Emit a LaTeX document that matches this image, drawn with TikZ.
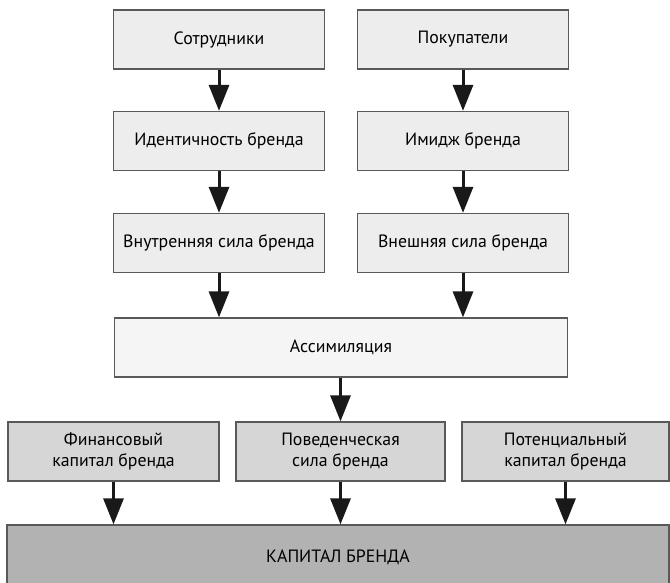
\documentclass[tikz,border=0pt]{standalone}
\usepackage{fontspec}
\setmainfont{PT Sans}
\usetikzlibrary{arrows.meta}

\begin{document}
\begin{tikzpicture}[x=1pt,y=-1pt,
  cell/.style={draw=black!65,line width=1.3pt,minimum width=211pt,
    minimum height=59pt,inner sep=0pt,align=center,
    font=\fontsize{17.8}{21.5}\selectfont},
  topcell/.style={cell,fill=black!7},
  assimcell/.style={cell,fill=black!4,minimum width=453pt},
  capcell/.style={cell,fill=black!16},
  totalcell/.style={cell,fill=black!30,minimum width=662pt,minimum height=64pt},
  flow/.style={draw=black!90,line width=3pt,-{Triangle[length=26pt,width=20pt]}}
  ]
  \useasboundingbox (0,0) rectangle (670,582);
  % two columns
  \node[topcell] (staff) at (219,39.5) {Сотрудники};
  \node[topcell] (buyers) at (463,39.5) {Покупатели};
  \node[topcell] (identity) at (219,141) {Идентичность бренда};
  \node[topcell] (image) at (463,141) {Имидж бренда};
  \node[topcell] (inner) at (219,243) {Внутренняя сила бренда};
  \node[topcell] (outer) at (463,243) {Внешняя сила бренда};
  % middle
  \node[assimcell] (assim) at (341,347.5) {Ассимиляция};
  % lower row
  \node[capcell] (finance) at (113.5,451.5) {Финансовый\\капитал бренда};
  \node[capcell, minimum width=209pt] (behave) at (340.5,451.5) {Поведенческая\\сила бренда};
  \node[capcell, minimum width=207pt] (potent) at (565.5,451.5) {Потенциальный\\капитал бренда};
  \node[totalcell] (equity) at (338,557) {КАПИТАЛ БРЕНДА};

  \draw[flow] (staff) -- (identity);
  \draw[flow] (identity) -- (inner);
  \draw[flow] (buyers) -- (image);
  \draw[flow] (image) -- (outer);
  \draw[flow] (inner.south) -- (inner.south |- assim.north);
  \draw[flow] (outer.south) -- (outer.south |- assim.north);
  \draw[flow] (assim.south -| behave.north) -- (behave.north);
  \draw[flow] (finance.south) -- (finance.south |- equity.north);
  \draw[flow] (behave.south) -- (behave.south |- equity.north);
  \draw[flow] (potent.south) -- (potent.south |- equity.north);
\end{tikzpicture}
\end{document}
